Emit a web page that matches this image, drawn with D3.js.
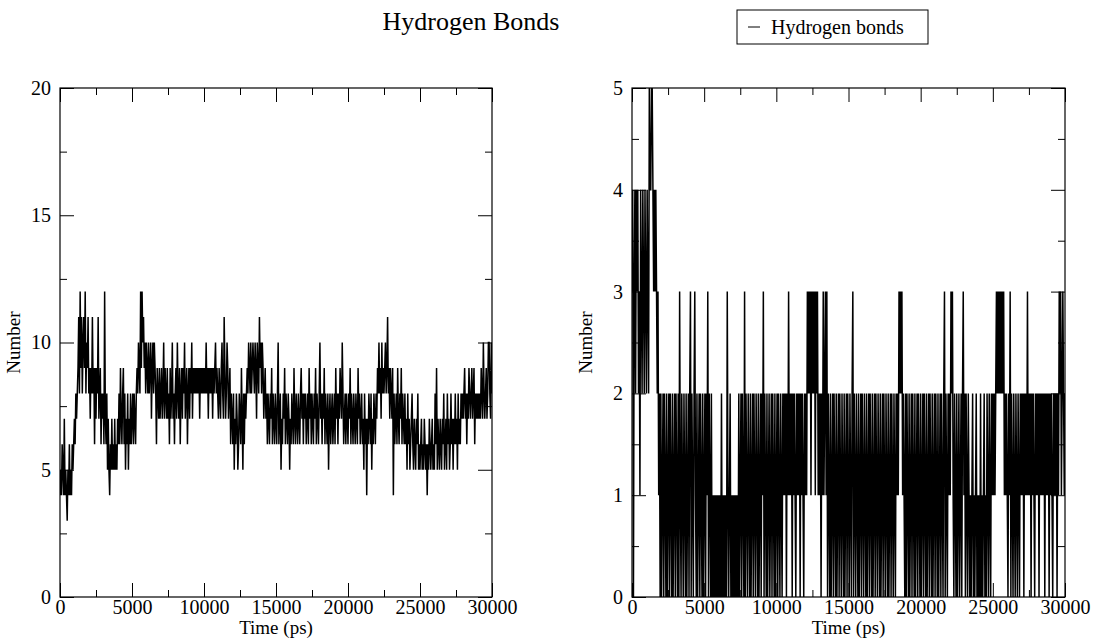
<!DOCTYPE html>
<meta charset="utf-8">
<style>
body{margin:0;background:#fff;}
text{font-family:"Liberation Serif","Times New Roman",serif;fill:#000;}
.tick text{font-size:20px;}
.tick line{stroke:#000;}
.frame{fill:none;stroke:#000;stroke-width:1.2px;}
.trace{fill:none;stroke:#000;stroke-width:1.5px;}
.title{font-size:26px;text-anchor:middle;}
.axlabel{font-size:19px;text-anchor:middle;}
</style>
<body>
<script src="https://d3js.org/d3.v7.min.js"></script>
<script>
// sampling interval of the trajectory, ps
var stepPs = 50;

var xTicks = [0, 5000, 10000, 15000, 20000, 25000, 30000];
var xMinor = [2500, 7500, 12500, 17500, 22500, 27500];
var leftYTicks = [0, 5, 10, 15, 20];
var leftYMinor = [2.5, 7.5, 12.5, 17.5];
var rightYTicks = [0, 1, 2, 3, 4, 5];
var rightYMinor = [0.5, 1.5, 2.5, 3.5, 4.5];

// number of hydrogen bonds, one value per 50 ps, 500 ps per row
var leftBonds = [
  4,5,4,6,5,4,7,4,5,4,
  3,5,4,6,4,5,4,6,5,6,
  7,6,8,7,8,9,11,8,12,9,
  11,8,10,11,9,12,8,10,9,11,
  8,9,7,9,8,11,8,9,6,9,
  7,9,8,11,7,8,9,6,8,7,
  8,6,12,7,6,8,5,7,5,4,
  6,5,7,5,6,5,7,5,6,5,
  7,6,8,6,9,7,6,8,9,6,
  8,5,7,6,8,5,7,6,8,6,
  7,8,6,8,7,6,8,9,8,10,
  9,8,12,9,12,10,11,9,10,8,
  10,9,8,10,8,9,10,7,9,10,
  8,10,9,8,6,9,8,7,9,7,
  8,9,7,8,10,7,9,8,7,9,
  7,8,6,9,7,8,10,7,8,6,
  8,9,7,10,8,7,9,6,8,9,
  7,9,8,10,7,8,9,6,8,9,
  7,9,8,10,7,9,8,9,8,9,
  8,9,8,9,7,9,8,9,8,9,
  8,9,8,10,8,9,7,9,8,9,
  8,9,7,9,8,9,10,8,9,8,
  7,9,8,7,9,10,8,7,11,9,
  7,8,10,9,7,8,9,6,8,7,
  6,8,5,7,6,8,7,5,6,8,
  7,6,9,7,5,8,6,8,7,8,
  9,8,10,9,8,10,8,9,10,9,
  8,10,9,7,10,9,8,11,9,10,
  8,10,9,7,8,9,7,8,6,8,
  7,6,8,7,9,6,8,7,6,8,
  7,6,8,10,6,7,8,5,7,6,
  8,7,9,6,8,7,6,8,7,5,
  7,6,8,7,6,9,7,6,8,7,
  6,8,7,6,8,9,7,8,6,8,
  7,8,6,7,8,6,9,7,8,6,
  8,7,6,8,7,9,6,8,7,6,
  8,10,7,8,6,8,7,9,6,8,
  7,6,8,5,7,8,6,7,8,6,
  7,8,6,9,7,8,6,8,7,9,
  8,7,10,8,6,7,8,6,8,7,
  6,8,7,9,6,8,7,6,8,7,
  6,8,7,6,9,7,8,6,7,8,
  6,7,5,8,6,7,4,7,6,8,
  7,6,8,5,7,6,8,7,6,8,
  7,9,8,10,8,9,7,10,8,9,
  8,9,10,8,9,11,8,9,7,9,
  8,7,9,4,8,6,7,8,6,9,
  7,6,8,7,9,6,8,7,6,8,
  6,7,5,8,6,7,5,6,7,8,
  6,5,7,6,5,7,6,8,5,6,
  5,6,7,5,6,5,7,6,5,6,
  4,6,5,7,6,5,6,7,5,6,
  5,8,6,9,5,7,6,5,7,6,
  5,7,6,8,5,6,7,5,8,6,
  7,5,6,8,6,7,5,7,6,8,
  6,7,5,8,6,7,6,8,7,8,
  7,8,9,7,8,6,8,7,9,8,
  7,8,9,7,8,9,6,8,7,8,
  7,8,7,8,7,9,8,7,10,8,
  7,8,9,7,8,10,10,8,7,10,
  8
];
var rightBonds = [
  3,4,0,3,4,2,4,3,4,2,
  3,1,4,3,2,4,3,2,4,3,
  2,4,3,2,5,4,4,5,5,4,
  3,4,3,4,3,2,3,1,2,0,
  2,0,1,2,0,2,1,0,2,0,
  1,2,0,2,1,0,2,0,1,2,
  0,2,1,0,2,0,3,1,0,2,
  1,0,2,1,0,2,0,1,2,0,
  2,3,0,2,1,0,2,3,1,0,
  2,0,1,2,0,2,1,0,2,0,
  1,2,0,2,1,3,0,2,1,0,
  2,0,1,0,1,0,1,0,1,0,
  1,0,1,0,2,0,1,0,1,0,
  1,0,3,1,0,1,2,0,1,0,
  1,0,1,0,1,0,1,0,2,0,
  1,2,0,2,1,0,3,0,2,1,
  0,2,1,0,2,0,1,2,0,2,
  1,0,2,1,0,2,0,1,2,0,
  2,1,3,0,2,1,0,2,0,1,
  2,0,1,2,0,2,1,0,2,0,
  1,2,0,2,1,0,2,1,0,2,
  1,2,1,2,0,2,1,3,1,2,
  1,2,0,2,1,2,1,0,2,1,
  2,1,2,0,2,1,2,1,0,2,
  1,2,1,3,2,3,2,3,1,3,
  2,3,2,3,1,3,2,3,1,2,
  1,2,0,2,1,3,1,2,3,1,
  3,0,2,1,0,2,0,1,2,0,
  2,1,0,2,0,1,2,0,2,1,
  0,2,1,0,2,0,1,2,0,2,
  1,0,2,1,0,2,3,0,2,1,
  0,2,1,0,2,0,1,2,0,2,
  1,0,2,1,0,2,0,1,2,0,
  2,1,0,2,0,1,2,0,2,1,
  0,2,1,0,2,0,1,2,0,2,
  1,0,2,1,0,2,0,1,2,0,
  2,1,0,2,1,0,2,1,2,1,
  3,2,3,2,3,1,2,1,0,2,
  0,2,1,0,2,0,1,2,0,2,
  1,0,2,0,1,2,0,2,1,0,
  2,0,1,2,0,2,1,0,2,0,
  1,2,0,2,1,0,2,0,1,2,
  0,2,1,0,2,0,1,2,0,2,
  1,0,2,3,0,2,1,0,2,1,
  2,1,3,2,3,1,0,2,1,0,
  2,0,1,2,0,1,2,0,2,3,
  1,2,0,2,1,0,2,1,0,1,
  0,1,2,0,1,0,1,2,0,1,
  0,1,0,2,0,1,0,1,2,0,
  1,0,2,1,0,2,1,0,2,1,
  2,1,2,1,2,3,2,3,2,3,
  2,3,2,3,2,3,1,2,1,2,
  1,0,2,1,3,0,2,1,0,2,
  1,0,2,1,0,2,1,0,2,1,
  2,1,2,0,2,1,2,1,3,1,
  2,1,2,0,2,1,2,1,0,2,
  1,2,1,2,0,2,1,2,1,2,
  1,2,0,2,1,2,1,2,0,2,
  1,2,1,0,2,1,2,1,2,0,
  2,1,3,2,3,1,2,3,2,1,
  2
];

var W = 1096, H = 642;
var svg = d3.select("body").append("svg").attr("width", W).attr("height", H);

svg.append("text").attr("class","title").attr("x",471).attr("y",30).text("Hydrogen Bonds");

// legend
var leg = svg.append("g").attr("transform","translate(737,10)");
leg.append("rect").attr("width",191).attr("height",34).attr("fill","#fff").attr("stroke","#000");
leg.append("line").attr("x1",11).attr("x2",23).attr("y1",17).attr("y2",17).attr("stroke","#000");
leg.append("text").attr("x",34).attr("y",24).style("font-size","20px").text("Hydrogen bonds");

var panels = [
  {id:"a", left:60, right:492, ymax:20, ticks:leftYTicks, minor:leftYMinor, data:leftBonds},
  {id:"b", left:632, right:1065, ymax:5, ticks:rightYTicks, minor:rightYMinor, data:rightBonds}
];
var plotTop = 88, plotBottom = 597;

panels.forEach(function(p){
  var x = d3.scaleLinear().domain([0,30000]).range([p.left,p.right]);
  var y = d3.scaleLinear().domain([0,p.ymax]).range([plotBottom,plotTop]);
  var g = svg.append("g");

  svg.append("clipPath").attr("id","clip-"+p.id).append("rect")
    .attr("x",p.left).attr("y",plotTop).attr("width",p.right-p.left).attr("height",plotBottom-plotTop);

  var line = d3.line().x(function(d,i){return x(i*stepPs);}).y(function(d){return y(d);});
  g.append("path").attr("class","trace").attr("clip-path","url(#clip-"+p.id+")").attr("d",line(p.data));

  function ax(gen, tv, size, pad, fmt, tr){
    var a = g.append("g").attr("transform",tr)
      .call(gen.tickValues(tv).tickSize(size).tickPadding(pad).tickFormat(fmt ? d3.format("d") : ""));
    a.select(".domain").remove();
    a.selectAll("text").attr("font-family",null).attr("font-size",null);
    return a;
  }
  ax(d3.axisBottom(x), xTicks, -14, 3, true, "translate(0,"+plotBottom+")");
  ax(d3.axisBottom(x), xMinor, -7, 0, false, "translate(0,"+plotBottom+")");
  ax(d3.axisTop(x), xTicks, -14, 0, false, "translate(0,"+plotTop+")");
  ax(d3.axisTop(x), xMinor, -7, 0, false, "translate(0,"+plotTop+")");
  ax(d3.axisLeft(y), p.ticks, -14, 9, true, "translate("+p.left+",0)");
  ax(d3.axisLeft(y), p.minor, -7, 0, false, "translate("+p.left+",0)");
  ax(d3.axisRight(y), p.ticks, -14, 0, false, "translate("+p.right+",0)");
  ax(d3.axisRight(y), p.minor, -7, 0, false, "translate("+p.right+",0)");

  g.append("rect").attr("class","frame").attr("x",p.left).attr("y",plotTop)
    .attr("width",p.right-p.left).attr("height",plotBottom-plotTop);

  g.append("text").attr("class","axlabel").attr("x",(p.left+p.right)/2).attr("y",634).text("Time (ps)");
  g.append("text").attr("class","axlabel")
    .attr("transform","translate("+(p.left-40)+","+((plotTop+plotBottom)/2)+") rotate(-90)").text("Number");
});
</script>
</body>
</html>
